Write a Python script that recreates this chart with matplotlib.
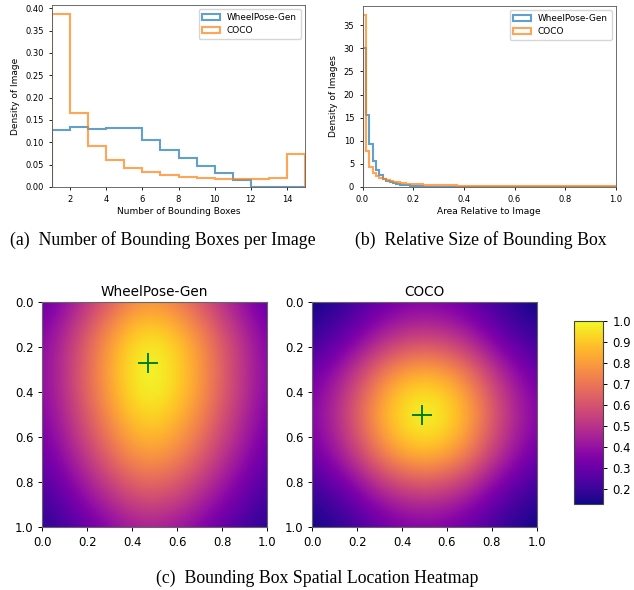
import numpy as np
import matplotlib.pyplot as plt

# (a) number of bounding boxes per image, one bin per integer 1..15
box_edges = np.arange(1, 16)
wheel_boxes = [0.128, 0.134, 0.130, 0.131, 0.132, 0.106, 0.083, 0.065,
               0.046, 0.031, 0.015, 0.0, 0.0, 0.0]
coco_boxes = [0.388, 0.166, 0.092, 0.060, 0.043, 0.033, 0.026, 0.022,
              0.020, 0.019, 0.018, 0.018, 0.021, 0.074]

# (b) relative area of bounding boxes, 75 bins over 0..1
area_edges = np.linspace(0, 1, 76)
wheel_area = [30.0, 15.6, 9.4, 5.7, 3.7, 2.5, 1.7, 1.3, 1.0, 0.8,
              0.65, 0.52, 0.42, 0.34, 0.27, 0.22, 0.17, 0.13, 0.10, 0.08,
              0.06, 0.05, 0.04, 0.03, 0.02, 0.015, 0.01, 0.01, 0.005, 0.005] + [0.0] * 45
coco_area = [37.3, 7.8, 4.3, 3.0, 2.4, 2.0, 1.7,
             1.45, 1.25, 1.1, 1.0, 0.9, 0.82, 0.75, 0.7,
             0.65, 0.6, 0.56, 0.52, 0.5, 0.47, 0.45, 0.42,
             0.4, 0.38, 0.36, 0.35, 0.33, 0.32, 0.31, 0.3,
             0.29, 0.28, 0.27, 0.26, 0.25, 0.25, 0.24, 0.23, 0.23, 0.22,
             0.22, 0.21, 0.21, 0.2, 0.2,
             0.2, 0.19, 0.19, 0.19, 0.18, 0.18, 0.18, 0.18, 0.17, 0.17,
             0.17, 0.17, 0.17, 0.16, 0.16, 0.16, 0.16, 0.16, 0.16, 0.15,
             0.15, 0.15, 0.15, 0.15, 0.15, 0.15, 0.15, 0.15, 0.15]

# (c) heatmap profiles sampled at 0.0, 0.1, ..., 1.0 (columns = x, rows = y)
wheel_x = [0.38, 0.50, 0.66, 0.82, 0.96, 1.00, 0.93, 0.80, 0.64, 0.50, 0.37]
wheel_y = [0.78, 0.90, 0.98, 1.00, 0.99, 0.94, 0.87, 0.78, 0.67, 0.56, 0.45]
coco_x = [0.36, 0.47, 0.63, 0.82, 0.95, 1.00, 0.95, 0.82, 0.63, 0.47, 0.36]
coco_y = [0.36, 0.47, 0.63, 0.82, 0.95, 1.00, 0.95, 0.82, 0.63, 0.47, 0.36]
wheel_peak = (0.47, 0.27)
coco_peak = (0.49, 0.50)

W, H = 634, 590
fig = plt.figure(figsize=(W / 100, H / 100), dpi=100)


def px_axes(l, t, r, b):
    return fig.add_axes([l / W, 1 - b / H, (r - l) / W, (b - t) / H])


def small_axes(ax):
    ax.tick_params(labelsize=6, length=2.5, width=0.6)
    for s in ax.spines.values():
        s.set_linewidth(0.6)
        s.set_color('#555555')


# ---- (a)
ax_a = px_axes(52, 5, 305, 187)
ax_a.hist(box_edges[:-1], bins=box_edges, weights=wheel_boxes, histtype='step',
          lw=1.5, alpha=0.7, color='tab:blue', label='WheelPose-Gen')
ax_a.hist(box_edges[:-1], bins=box_edges, weights=coco_boxes, histtype='step',
          lw=1.5, alpha=0.7, color='tab:orange', label='COCO')
ax_a.set_xlim(1, 15)
ax_a.set_xticks(range(2, 15, 2))
ax_a.set_yticks(np.arange(0, 0.41, 0.05))
ax_a.set_xlabel('Number of Bounding Boxes', fontsize=6.5, labelpad=2)
ax_a.set_ylabel('Density of Image', fontsize=6.5, labelpad=4)
ax_a.legend(fontsize=6.4, loc='upper right')
small_axes(ax_a)

# ---- (b)
ax_b = px_axes(362.5, 6, 616, 187)
ax_b.hist(area_edges[:-1], bins=area_edges, weights=wheel_area, histtype='step',
          lw=1.5, alpha=0.7, color='tab:blue', label='WheelPose-Gen')
ax_b.hist(area_edges[:-1], bins=area_edges, weights=coco_area, histtype='step',
          lw=1.5, alpha=0.7, color='tab:orange', label='COCO')
ax_b.set_xlim(0, 1)
ax_b.set_yticks(range(0, 36, 5))
ax_b.set_xlabel('Area Relative to Image', fontsize=6.5, labelpad=2)
ax_b.set_ylabel('Density of Images', fontsize=6.5, labelpad=4)
ax_b.legend(fontsize=6.4, loc='upper right')
small_axes(ax_b)

# ---- (c) heatmaps
vmin, vmax = 0.127, 1.0
heat_specs = [
    ((42.3, 302, 267, 527), 'WheelPose-Gen', np.outer(wheel_y, wheel_x), wheel_peak),
    ((312.3, 302, 536.7, 527), 'COCO', np.outer(coco_y, coco_x), coco_peak),
]
for box, title, grid, peak in heat_specs:
    ax = px_axes(*box)
    im = ax.imshow(grid, cmap='plasma', vmin=vmin, vmax=vmax, interpolation='bicubic',
                   extent=(-0.05, 1.05, 1.05, -0.05), aspect='auto')
    ax.plot(*peak, marker='+', color='green', markersize=15, mew=1.4)
    ax.set_xlim(0, 1)
    ax.set_ylim(1, 0)
    ax.set_xticks(np.arange(0, 1.01, 0.2))
    ax.set_yticks(np.arange(0, 1.01, 0.2))
    ax.tick_params(labelsize=8.4, length=3, width=0.7)
    for s in ax.spines.values():
        s.set_color('#666666')
    ax.set_title(title, fontsize=9.8, pad=4)

cax = px_axes(574.3, 321, 603.3, 504.3)
cb = fig.colorbar(im, cax=cax)
cb.set_ticks(np.arange(0.2, 1.01, 0.1))
cb.ax.tick_params(labelsize=8.4, length=3, width=0.7)
cb.outline.set_edgecolor('#444444')

# captions
cap = dict(fontsize=12.8, family='Liberation Serif', ha='center', va='center')
fig.text(163 / W, 1 - 240 / H, '(a)  Number of Bounding Boxes per Image', **cap)
fig.text(481 / W, 1 - 240 / H, '(b)  Relative Size of Bounding Box', **cap)
fig.text(317 / W, 1 - 578 / H, '(c)  Bounding Box Spatial Location Heatmap', **cap)

fig.savefig('out.png', dpi=100)
